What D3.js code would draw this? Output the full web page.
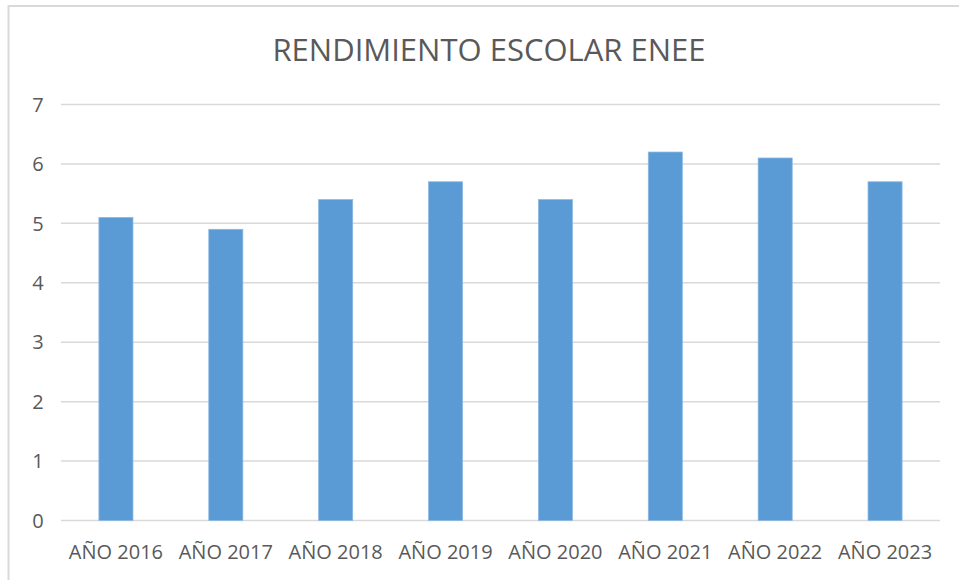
<!DOCTYPE html>
<html lang="es">
<head>
  <meta charset="utf-8">
  <title>Rendimiento escolar ENEE</title>
  <script src="https://d3js.org/d3.v7.min.js"></script>
  <style>
    body { margin: 0; background: #fff; }
    text { font-family: "Open Sans", "Noto Sans", sans-serif; fill: #595959; }
  </style>
</head>
<body>
  <script>
    // datos
    var categories = ["AÑO 2016", "AÑO 2017", "AÑO 2018", "AÑO 2019", "AÑO 2020", "AÑO 2021", "AÑO 2022", "AÑO 2023"];
    var values = [5.1, 4.9, 5.4, 5.7, 5.4, 6.2, 6.1, 5.7];
    var yTicks = [0, 1, 2, 3, 4, 5, 6, 7];
    var title = "RENDIMIENTO ESCOLAR ENEE";

    var width = 959, height = 580;
    var margin = {top: 104.5, right: 19, bottom: 59.5, left: 61};

    var svg = d3.select("body").append("svg")
      .attr("width", width)
      .attr("height", height);

    // chart frame (right and bottom edges fall outside the picture)
    svg.append("rect")
      .attr("x", 8.5).attr("y", 6)
      .attr("width", 1000).attr("height", 1000)
      .attr("fill", "none")
      .attr("stroke", "#d9d9d9")
      .attr("stroke-width", 2);

    var x = d3.scaleBand()
      .domain(categories)
      .range([margin.left, width - margin.right])
      .paddingInner(0.69)
      .paddingOuter(0.345);

    var y = d3.scaleLinear()
      .domain([0, 7])
      .range([height - margin.bottom, margin.top]);

    // grid lines
    svg.append("g")
      .selectAll("line")
      .data(yTicks)
      .join("line")
      .attr("x1", margin.left)
      .attr("x2", width - margin.right)
      .attr("y1", d => y(d))
      .attr("y2", d => y(d))
      .attr("stroke", "#d9d9d9")
      .attr("stroke-width", 1.5);

    // y labels
    svg.append("g")
      .selectAll("text")
      .data(yTicks)
      .join("text")
      .attr("x", 38)
      .attr("y", d => y(d))
      .attr("dy", "0.36em")
      .attr("text-anchor", "middle")
      .attr("font-size", 20)
      .text(d => d);

    // bars
    svg.append("g")
      .selectAll("rect")
      .data(values)
      .join("rect")
      .attr("x", (d, i) => x(categories[i]))
      .attr("width", x.bandwidth())
      .attr("y", d => y(d))
      .attr("height", d => y(0) - y(d))
      .attr("fill", "#5b9bd5")
      .attr("stroke", "#8ab8e3")
      .attr("stroke-width", 0.75);

    // x labels
    svg.append("g")
      .selectAll("text")
      .data(categories)
      .join("text")
      .attr("x", d => x(d) + x.bandwidth() / 2)
      .attr("y", 559)
      .attr("text-anchor", "middle")
      .attr("font-size", 20)
      .text(d => d);

    // title
    svg.append("text")
      .attr("x", 489)
      .attr("y", 61)
      .attr("text-anchor", "middle")
      .attr("font-size", 31)
      .text(title);
  </script>
</body>
</html>
